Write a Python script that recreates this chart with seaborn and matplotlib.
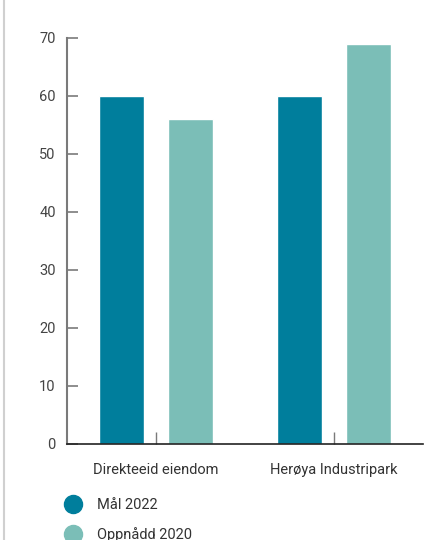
import numpy as np
import pandas as pd
import matplotlib.pyplot as plt
import seaborn as sns
from matplotlib.lines import Line2D

# Data
categories = ["Direkteeid eiendom", "Herøya Industripark"]
series_names = ["Mål 2022", "Oppnådd 2020"]
maal_2022 = [60, 60]
oppnaadd_2020 = [56, 69]
y_ticks = [0, 10, 20, 30, 40, 50, 60, 70]

colors = ["#007e9c", "#7bbeb7"]

df = pd.DataFrame({
    "kategori": categories * 2,
    "serie": [series_names[0]] * 2 + [series_names[1]] * 2,
    "verdi": maal_2022 + oppnaadd_2020,
})

sns.set_style("white")
plt.rcParams["font.family"] = ["Roboto", "DejaVu Sans"]

fig = plt.figure(figsize=(4.46, 5.4), dpi=100)
ax = fig.add_axes([0.150, 0.178, 0.798, 0.752])

sns.barplot(
    data=df,
    x="kategori",
    y="verdi",
    hue="serie",
    palette=colors,
    width=0.776,
    gap=0.34,
    saturation=1,
    ax=ax,
)

ax.set_xlim(-0.5, 1.5)
ax.set_ylim(0, 70)
ax.set_yticks(y_ticks)
ax.set_xlabel("")
ax.set_ylabel("")

for s in ["top", "right"]:
    ax.spines[s].set_visible(False)
ax.spines["left"].set_color("#7a7a7a")
ax.spines["left"].set_linewidth(1.5)
ax.spines["bottom"].set_color("#222222")
ax.spines["bottom"].set_linewidth(1.2)

ax.tick_params(axis="y", left=True, direction="in", length=8, width=1.2,
               color="#7a7a7a", labelcolor="#444444", labelsize=10.5, pad=8)
ax.tick_params(axis="x", bottom=True, direction="in", length=9, width=1,
               color="#7a7a7a", labelcolor="#333333", labelsize=10.5, pad=14)

# Legend with circle markers
handles = [
    Line2D([], [], marker="o", linestyle="", markersize=13,
           markerfacecolor=c, markeredgecolor=c)
    for c in colors
]
ax.legend(
    handles, series_names,
    loc="upper left",
    bbox_to_anchor=(0.13, 0.078),
    bbox_transform=fig.transFigure,
    frameon=False,
    fontsize=10.5,
    labelcolor="#333333",
    handletextpad=0.7,
    labelspacing=1.05,
    borderaxespad=0,
    borderpad=0,
)

# light border on the left edge
fig.add_artist(Line2D([0.009, 0.009], [0, 1], transform=fig.transFigure,
                      color="#d0d0d0", linewidth=1.5))

fig.savefig("out.png", dpi=100)
